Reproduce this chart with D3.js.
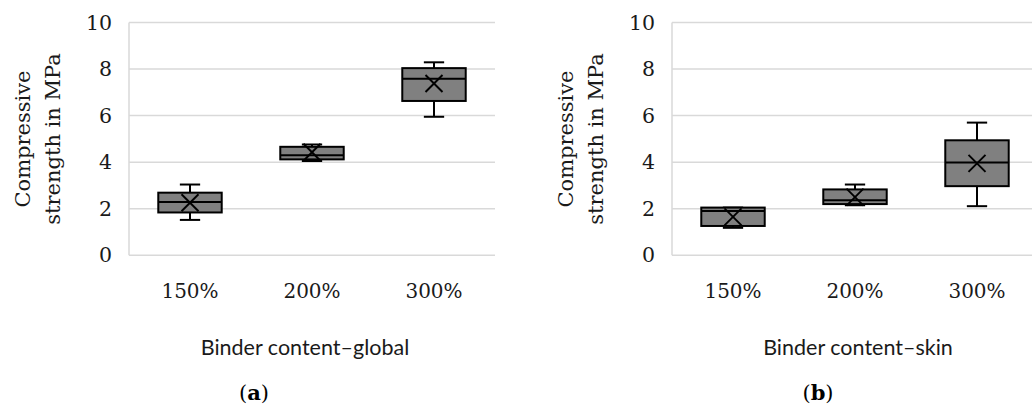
<!DOCTYPE html>
<html>
<head>
<meta charset="utf-8">
<script src="https://cdn.jsdelivr.net/npm/d3@7/dist/d3.min.js"></script>
<style>
  html, body { margin: 0; padding: 0; background: #fff; }
  svg { display: block; }
</style>
</head>
<body>
<div id="chart"></div>
<script>
// ---- Data ----
const categories = ["150%", "200%", "300%"];
const yTicks = [0, 2, 4, 6, 8, 10];

const globalMin    = [1.52, 4.05, 5.95];
const globalQ1     = [1.84, 4.12, 6.63];
const globalMedian = [2.29, 4.30, 7.58];
const globalQ3     = [2.69, 4.66, 8.04];
const globalMax    = [3.04, 4.76, 8.29];
const globalMean   = [2.26, 4.43, 7.38];

const skinMin    = [1.18, 2.15, 2.11];
const skinQ1     = [1.26, 2.20, 2.97];
const skinMedian = [1.90, 2.37, 3.99];
const skinQ3     = [2.05, 2.83, 4.94];
const skinMax    = [2.05, 3.04, 5.70];
const skinMean   = [1.65, 2.50, 3.95];

const yLabelLines = ["Compressive", "strength in MPa"];
const panels = [
  { xTitle: "Binder content\u2013global", tag: "a",
    min: globalMin, q1: globalQ1, med: globalMedian, q3: globalQ3, max: globalMax, mean: globalMean },
  { xTitle: "Binder content\u2013skin", tag: "b",
    min: skinMin, q1: skinQ1, med: skinMedian, q3: skinQ3, max: skinMax, mean: skinMean }
];

// ---- Layout ----
const W = 1032, H = 409;
const layout = [
  { left: 129, right: 495, ylab: [23, 53], xTitleX: 305, tagX: 254 },
  { left: 672, right: 1038, ylab: [566, 596], xTitleX: 858, tagX: 818 }
];
const yTop = 22.5, yBottom = 255.3;

const serif = "'DejaVu Serif', serif";
const sans = "Lato, 'Open Sans', sans-serif";

const svg = d3.select("#chart").append("svg")
  .attr("width", W).attr("height", H)
  .style("background", "#fff");

panels.forEach((p, pi) => {
  const L = layout[pi];
  const y = d3.scaleLinear().domain([0, 10]).range([yBottom, yTop]);
  const x = d3.scaleBand().domain(categories).range([L.left, L.right]).padding(0);
  const g = svg.append("g");

  // gridlines
  g.selectAll("line.grid").data(yTicks).enter().append("line")
    .attr("x1", L.left).attr("x2", Math.min(L.right, W))
    .attr("y1", d => y(d)).attr("y2", d => y(d))
    .attr("stroke", "#d9d9d9").attr("stroke-width", 1.5);
  // left axis line
  g.append("line")
    .attr("x1", L.left).attr("x2", L.left)
    .attr("y1", y(10)).attr("y2", y(0))
    .attr("stroke", "#d9d9d9").attr("stroke-width", 1.5);

  // y axis tick labels
  const yAxis = d3.axisLeft(y).tickValues(yTicks).tickSize(0).tickPadding(17).tickFormat(d3.format("d"));
  const ya = g.append("g").attr("transform", `translate(${L.left},0)`).call(yAxis);
  ya.select(".domain").remove();
  ya.selectAll("text").attr("font-family", serif).attr("font-size", 20.5).attr("fill", "#1a1a1a");

  // x axis tick labels
  const xAxis = d3.axisBottom(x).tickSize(0).tickPadding(0);
  const xa = g.append("g").attr("transform", `translate(0,${yBottom})`).call(xAxis);
  xa.select(".domain").remove();
  xa.selectAll("text").attr("font-family", serif).attr("font-size", 20).attr("fill", "#1a1a1a")
    .attr("dy", null).attr("y", 43);

  // y label
  const yl = g.append("g");
  yLabelLines.forEach((t, i) => {
    yl.append("text")
      .attr("transform", `translate(${L.ylab[i]},${139}) rotate(-90)`)
      .attr("text-anchor", "middle").attr("dominant-baseline", "central")
      .attr("font-family", serif).attr("font-size", 21).attr("fill", "#1a1a1a")
      .text(t);
  });

  // x title
  g.append("text").attr("x", L.xTitleX).attr("y", 355)
    .attr("text-anchor", "middle").attr("font-family", sans).attr("font-size", 21.5)
    .attr("fill", "#1a1a1a").text(p.xTitle);

  // panel tag
  const tg = g.append("text").attr("x", L.tagX).attr("y", 400)
    .attr("text-anchor", "middle").attr("font-family", serif).attr("font-size", 21).attr("fill", "#000");
  tg.append("tspan").text("(");
  tg.append("tspan").attr("font-weight", "bold").text(p.tag);
  tg.append("tspan").text(")");

  // boxes
  const bw = x.bandwidth() * 0.52;
  const capW = bw * 0.32;
  const mk = 8.5;
  categories.forEach((c, i) => {
    const cx = x(c) + x.bandwidth() / 2;
    const bg = g.append("g").attr("stroke", "#000").attr("stroke-width", 2);
    // whiskers
    bg.append("line").attr("x1", cx).attr("x2", cx).attr("y1", y(p.q3[i])).attr("y2", y(p.max[i]));
    bg.append("line").attr("x1", cx).attr("x2", cx).attr("y1", y(p.q1[i])).attr("y2", y(p.min[i]));
    bg.append("line").attr("x1", cx - capW / 2).attr("x2", cx + capW / 2).attr("y1", y(p.max[i])).attr("y2", y(p.max[i]));
    bg.append("line").attr("x1", cx - capW / 2).attr("x2", cx + capW / 2).attr("y1", y(p.min[i])).attr("y2", y(p.min[i]));
    // box
    bg.append("rect").attr("x", cx - bw / 2).attr("width", bw)
      .attr("y", y(p.q3[i])).attr("height", y(p.q1[i]) - y(p.q3[i]))
      .attr("fill", "#808080");
    // median
    bg.append("line").attr("x1", cx - bw / 2).attr("x2", cx + bw / 2).attr("y1", y(p.med[i])).attr("y2", y(p.med[i]));
    // mean X
    const my = y(p.mean[i]);
    bg.append("line").attr("x1", cx - mk).attr("x2", cx + mk).attr("y1", my - mk).attr("y2", my + mk);
    bg.append("line").attr("x1", cx - mk).attr("x2", cx + mk).attr("y1", my + mk).attr("y2", my - mk);
  });
});
</script>
</body>
</html>
